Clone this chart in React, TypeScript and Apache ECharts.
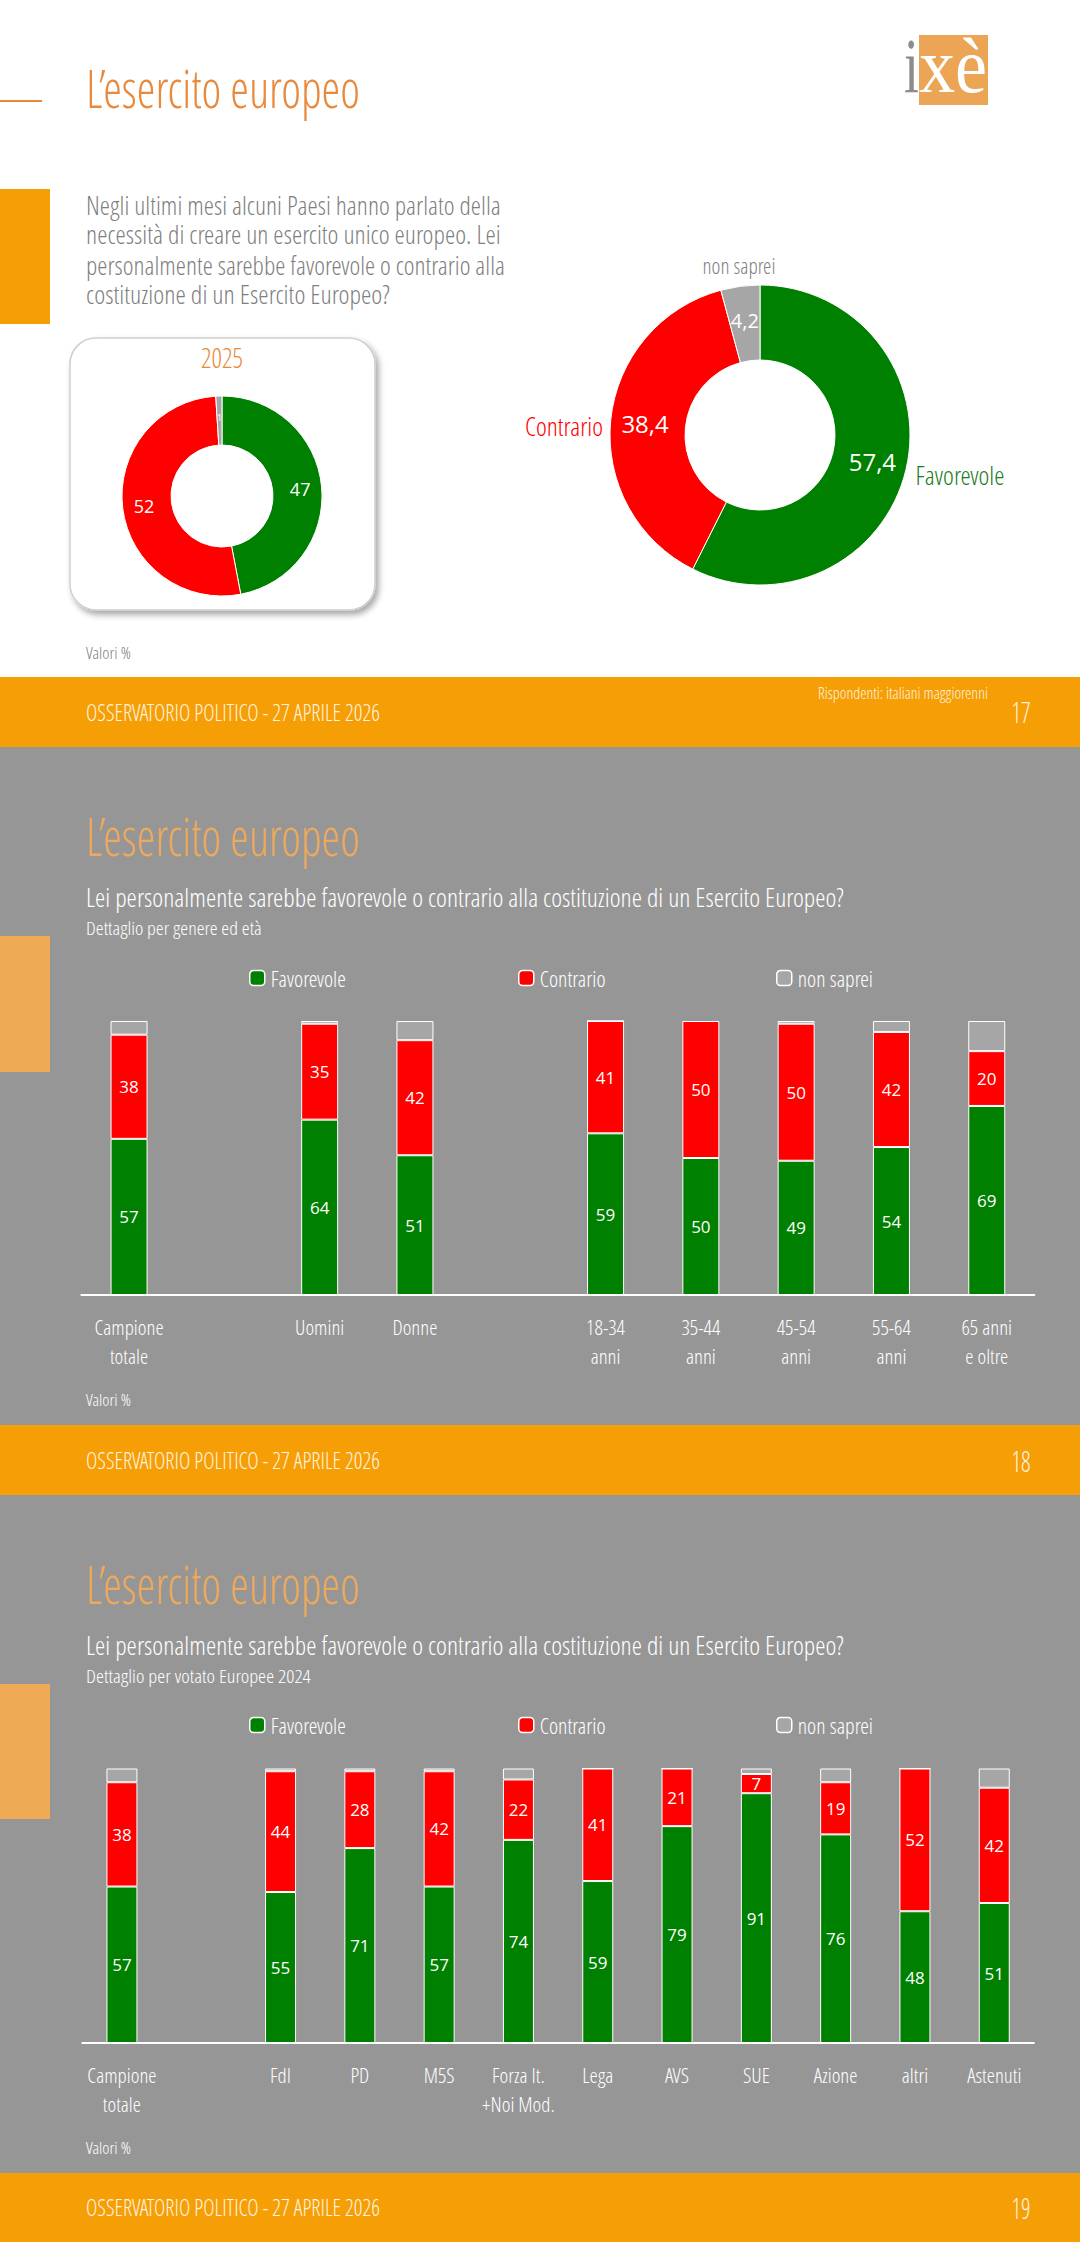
import React, { useEffect, useRef } from "react";
import * as echarts from "echarts";

// ---------- DATA ----------
const answerNames = ["Favorevole", "Contrario", "non saprei"];
const donut2025Values = [47, 52, 1];
const donut2026Values = [57.4, 38.4, 4.2];

const ageCategories = ["Campione\ntotale", "", "Uomini", "Donne", "", "18-34\nanni", "35-44\nanni", "45-54\nanni", "55-64\nanni", "65 anni\ne oltre"];
const ageFavorevole = [57, null, 64, 51, null, 59, 50, 49, 54, 69];
const ageContrario = [38, null, 35, 42, null, 41, 50, 50, 42, 20];
const ageNonSaprei = [5, null, 1, 7, null, 0, 0.5, 1, 4, 11];

const voteCategories = ["Campione\ntotale", "", "FdI", "PD", "M5S", "Forza It.\n+Noi Mod.", "Lega", "AVS", "SUE", "Azione", "altri", "Astenuti"];
const voteFavorevole = [57, null, 55, 71, 57, 74, 59, 79, 91, 76, 48, 51];
const voteContrario = [38, null, 44, 28, 42, 22, 41, 21, 7, 19, 52, 42];
const voteNonSaprei = [5, null, 1, 1, 1, 4, 0, 0, 2, 5, 0, 7];

// ---------- STYLE ----------
const GREEN = "#008000";
const RED = "#FF0000";
const GREY = "#A6A6A6";
const SEG_COLORS = [GREEN, RED, GREY];
const PAGE_GREY = "#969696";
const FOOT_ORANGE = "#F69E05";
const TITLE_ORANGE = "#E8893C";
const TITLE_ORANGE_2 = "#EFA95C";
const SIDE_ORANGE_2 = "#EEAA55";
const LIGHT = "'Open Sans Condensed Light', 'Roboto Condensed', 'DejaVu Sans Condensed', sans-serif";
const NUMFONT = "'Open Sans', Lato, sans-serif";
const SERIF = "'Liberation Serif', 'DejaVu Serif', serif";

let ctx: CanvasRenderingContext2D | null = null;
function measure(text: string, size: number, weight: number, family: string) {
  if (!ctx) ctx = document.createElement("canvas").getContext("2d");
  ctx!.font = `${weight} ${size}px ${family}`;
  return ctx!.measureText(text).width || 1;
}

function txt(text: string, x: number, y: number, size: number, color: string, targetW: number, align = "left", weight = 400, family = LIGHT) {
  const w = measure(text, size, weight, family);
  return {
    type: "text",
    x,
    y,
    scaleX: targetW / w,
    z: 10,
    silent: true,
    style: { text, fill: color, fontSize: size, fontWeight: weight, fontFamily: family, align, verticalAlign: "middle" },
  };
}

function rect(x: number, y: number, w: number, h: number, fill: string, z = 0) {
  return { type: "rect", z, silent: true, shape: { x, y, width: w, height: h }, style: { fill } };
}

const fmt = (v: number) => String(v).replace(".", ",");

function buildOption() {
  const graphic: any[] = [
    // pages
    rect(0, 0, 1080, 677, "#ffffff"),
    rect(0, 677, 1080, 70, FOOT_ORANGE),
    rect(0, 747, 1080, 678, PAGE_GREY),
    rect(0, 1425, 1080, 70, FOOT_ORANGE),
    rect(0, 1495, 1080, 678, PAGE_GREY),
    rect(0, 2173, 1080, 69, FOOT_ORANGE),
    // side bars
    rect(0, 189, 50, 135, FOOT_ORANGE, 1),
    rect(0, 936, 50, 136, SIDE_ORANGE_2, 1),
    rect(0, 1684, 50, 135, SIDE_ORANGE_2, 1),
    // thin line page 1
    rect(0, 100, 42, 2, TITLE_ORANGE, 1),
    // logo
    rect(919, 35, 69, 70, "#EBA555", 1),
    txt("i", 904, 66, 78, "#8C8C8C", 15, "left", 400, SERIF),
    txt("xè", 919, 66, 78, "#ffffff", 68, "left", 400, SERIF),
    // rounded box
    {
      type: "rect",
      z: 1,
      silent: true,
      shape: { x: 70, y: 338, width: 305, height: 272, r: 26 },
      style: { fill: "#ffffff", stroke: "#cfcfcf", lineWidth: 1.5, shadowBlur: 6, shadowOffsetX: 3, shadowOffsetY: 4, shadowColor: "rgba(0,0,0,0.35)" },
    },
    // page 1 texts
    txt("L\u2019esercito europeo", 86, 87, 54, TITLE_ORANGE, 274),
    txt("Negli ultimi mesi alcuni Paesi hanno parlato della", 86, 205, 25, "#7F7F7F", 415),
    txt("necessità di creare un esercito unico europeo. Lei", 86, 235, 25, "#7F7F7F", 415),
    txt("personalmente sarebbe favorevole o contrario alla", 86, 265, 25, "#7F7F7F", 419),
    txt("costituzione di un Esercito Europeo?", 86, 294, 25, "#7F7F7F", 304),
    txt("2025", 222, 357, 28, TITLE_ORANGE, 42, "center"),
    txt("non saprei", 739, 265, 22, "#7F7F7F", 73, "center"),
    txt("Contrario", 564, 426, 26, RED, 78, "center"),
    txt("Favorevole", 960, 475, 26, "#1E7B1E", 89, "center"),
    txt("Valori %", 86, 653, 16, "#7F7F7F", 45),
    txt("OSSERVATORIO POLITICO - 27 APRILE 2026", 86, 712, 23, "#FFF4E0", 294),
    txt("Rispondenti: italiani maggiorenni", 818, 693, 16, "#FFF4E0", 170),
    txt("17", 1021, 711, 30, "#FFF4E0", 19, "center"),
    // page 2 texts
    txt("L\u2019esercito europeo", 86, 835, 54, TITLE_ORANGE_2, 274),
    txt("Lei personalmente sarebbe favorevole o contrario alla costituzione di un Esercito Europeo?", 86, 898, 25, "#ffffff", 758),
    txt("Dettaglio per genere ed età", 86, 928, 19, "#ffffff", 176),
    txt("Valori %", 86, 1400, 16, "#ffffff", 45),
    txt("OSSERVATORIO POLITICO - 27 APRILE 2026", 86, 1460, 23, "#FFF4E0", 294),
    txt("18", 1021, 1460, 30, "#FFF4E0", 19, "center"),
    // page 3 texts
    txt("L\u2019esercito europeo", 86, 1583, 54, TITLE_ORANGE_2, 274),
    txt("Lei personalmente sarebbe favorevole o contrario alla costituzione di un Esercito Europeo?", 86, 1646, 25, "#ffffff", 758),
    txt("Dettaglio per votato Europee 2024", 86, 1676, 19, "#ffffff", 225),
    txt("Valori %", 86, 2148, 16, "#ffffff", 45),
    txt("OSSERVATORIO POLITICO - 27 APRILE 2026", 86, 2207, 23, "#FFF4E0", 294),
    txt("19", 1021, 2207, 30, "#FFF4E0", 19, "center"),
  ];

  const pieSeries = (center: number[], radius: number[], values: number[], fontSize: number, smallSize: number) => ({
    type: "pie",
    silent: true,
    center,
    radius,
    startAngle: 90,
    clockwise: true,
    avoidLabelOverlap: false,
    z: 5,
    itemStyle: { borderColor: "#ffffff", borderWidth: 1 },
    labelLine: { show: false },
    label: { show: true, position: "inside", color: "#ffffff", fontSize, fontFamily: NUMFONT, formatter: (p: any) => fmt(p.value) },
    data: answerNames.map((n, i) => ({
      name: n,
      value: values[i],
      itemStyle: { color: SEG_COLORS[i] },
      label: i === 2 ? { fontSize: smallSize } : undefined,
    })),
  });

  const barSet = (g: number, fav: any[], con: any[], ns: any[], barWidth: number) => {
    const base = { type: "bar", stack: "s" + g, xAxisIndex: g, yAxisIndex: g, barWidth, silent: true, z: 5 };
    const lab = { show: true, position: "inside", color: "#ffffff", fontSize: 17, fontFamily: NUMFONT };
    return [
      { ...base, name: answerNames[0], data: fav, itemStyle: { color: GREEN, borderColor: "#ffffff", borderWidth: 1 }, label: lab },
      { ...base, name: answerNames[1], data: con, itemStyle: { color: RED, borderColor: "#ffffff", borderWidth: 1 }, label: lab },
      { ...base, name: answerNames[2], data: ns, itemStyle: { color: GREY, borderColor: "#ffffff", borderWidth: 1 }, label: { show: false } },
    ];
  };

  const xAxis = (g: number, data: string[]) => ({
    type: "category",
    gridIndex: g,
    data,
    axisLine: { lineStyle: { color: "#ffffff", width: 2 } },
    axisTick: { show: false },
    axisLabel: { color: "#ffffff", fontSize: 21, fontFamily: LIGHT, lineHeight: 29, margin: 17, interval: 0 },
  });
  const yAxis = (g: number) => ({ type: "value", gridIndex: g, min: 0, max: 100, show: false });

  const legendAt = (name: string, left: number, top: number) => ({
    data: [name],
    left,
    top,
    padding: 0,
    itemWidth: 15,
    itemHeight: 15,
    selectedMode: false,
    itemStyle: { borderColor: "#ffffff", borderWidth: 1.5 },
    textStyle: { color: "#ffffff", fontSize: 22, fontFamily: LIGHT, padding: [0, 0, 0, 1] },
  });

  return {
    animation: false,
    backgroundColor: "#ffffff",
    graphic,
    legend: [
      legendAt("Favorevole", 249, 967),
      legendAt("Contrario", 518, 967),
      legendAt("non saprei", 776, 967),
      legendAt("Favorevole", 249, 1714),
      legendAt("Contrario", 518, 1714),
      legendAt("non saprei", 776, 1714),
    ],
    grid: [
      { left: 81.4, top: 1021, width: 953, height: 274 },
      { left: 82.3, top: 1768.5, width: 951.6, height: 274.5 },
    ],
    xAxis: [xAxis(0, ageCategories), xAxis(1, voteCategories)],
    yAxis: [yAxis(0), yAxis(1)],
    series: [
      pieSeries([222, 496], [51, 100], donut2025Values, 18, 9),
      pieSeries([760, 435], [75, 150], donut2026Values, 24, 20),
      ...barSet(0, ageFavorevole, ageContrario, ageNonSaprei, 37),
      ...barSet(1, voteFavorevole, voteContrario, voteNonSaprei, 31),
    ],
  };
}

export default function App() {
  const ref = useRef<HTMLDivElement>(null);
  useEffect(() => {
    const chart = echarts.init(ref.current!, null, { renderer: "svg" });
    chart.setOption(buildOption() as any);
    return () => chart.dispose();
  }, []);
  return <div ref={ref} style={{ position: "absolute", left: 0, top: 0, width: 1080, height: 2242 }} />;
}
